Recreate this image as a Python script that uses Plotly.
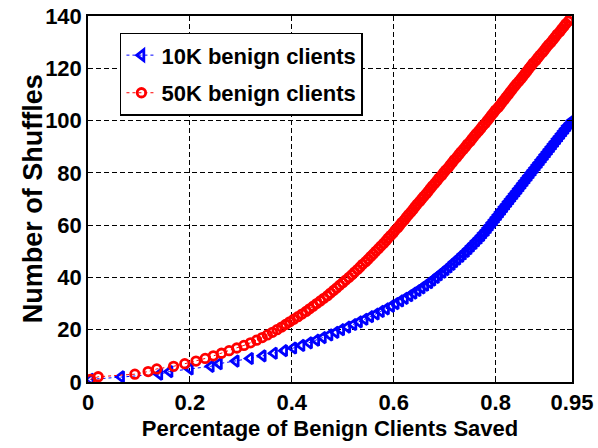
import plotly.graph_objects as go

# Fraction of benign clients saved after each shuffle, 50K benign clients
red_shuffles = [
    1, 2, 3, 4, 5, 6, 7, 8, 9, 10, 11, 12, 13, 14, 15, 16, 17, 18, 19, 20,
    21, 22, 23, 24, 25, 26, 27, 28, 29, 30, 31, 32, 33, 34, 35, 36, 37, 38, 39, 40,
    41, 42, 43, 44, 45, 46, 47, 48, 49, 50, 51, 52, 53, 54, 55, 56, 57, 58, 59, 60,
    61, 62, 63, 64, 65, 66, 67, 68, 69, 70, 71, 72, 73, 74, 75, 76, 77, 78, 79, 80,
    81, 82, 83, 84, 85, 86, 87, 88, 89, 90, 91, 92, 93, 94, 95, 96, 97, 98, 99, 100,
    101, 102, 103, 104, 105, 106, 107, 108, 109, 110, 111, 112, 113, 114, 115, 116, 117, 118, 119, 120,
    121, 122, 123, 124, 125, 126, 127, 128, 129, 130, 131, 132, 133, 134, 135, 136, 137, 138, 139,
]
red_saved = [
    0.005, 0.020, 0.092, 0.118, 0.135, 0.168, 0.190, 0.212, 0.230, 0.246,
    0.262, 0.277, 0.292, 0.306, 0.319, 0.331, 0.342, 0.352, 0.362, 0.371,
    0.380, 0.388, 0.396, 0.404, 0.412, 0.420, 0.428, 0.435, 0.442, 0.449,
    0.456, 0.463, 0.470, 0.476, 0.482, 0.488, 0.494, 0.500, 0.506, 0.512,
    0.518, 0.523, 0.529, 0.534, 0.539, 0.545, 0.550, 0.555, 0.560, 0.565,
    0.570, 0.575, 0.580, 0.585, 0.589, 0.594, 0.599, 0.603, 0.608, 0.612,
    0.616, 0.621, 0.625, 0.629, 0.634, 0.638, 0.642, 0.646, 0.651, 0.655,
    0.659, 0.664, 0.668, 0.672, 0.676, 0.681, 0.685, 0.689, 0.694, 0.698,
    0.702, 0.707, 0.711, 0.715, 0.719, 0.724, 0.728, 0.732, 0.737, 0.741,
    0.745, 0.750, 0.754, 0.758, 0.762, 0.767, 0.771, 0.775, 0.780, 0.784,
    0.788, 0.792, 0.796, 0.800, 0.805, 0.809, 0.813, 0.817, 0.821, 0.825,
    0.829, 0.833, 0.837, 0.841, 0.846, 0.850, 0.854, 0.858, 0.862, 0.866,
    0.870, 0.874, 0.879, 0.883, 0.887, 0.892, 0.896, 0.900, 0.904, 0.909,
    0.913, 0.917, 0.921, 0.926, 0.930, 0.934, 0.938, 0.943, 0.947,
]

# Fraction of benign clients saved after each shuffle, 10K benign clients
blue_shuffles = [
    1, 2, 3, 4, 5, 6, 7, 8, 9, 10, 11, 12, 13, 14, 15, 16, 17, 18, 19, 20,
    21, 22, 23, 24, 25, 26, 27, 28, 29, 30, 31, 32, 33, 34, 35, 36, 37, 38, 39, 40,
    41, 42, 43, 44, 45, 46, 47, 48, 49, 50, 51, 52, 53, 54, 55, 56, 57, 58, 59, 60,
    61, 62, 63, 64, 65, 66, 67, 68, 69, 70, 71, 72, 73, 74, 75, 76, 77, 78, 79, 80,
    81, 82, 83, 84, 85, 86, 87, 88, 89, 90, 91, 92, 93, 94, 95, 96, 97, 98, 99, 100,
]
blue_saved = [
    0.005, 0.065, 0.140, 0.160, 0.200, 0.241, 0.257, 0.290, 0.318, 0.343,
    0.365, 0.385, 0.403, 0.419, 0.434, 0.448, 0.461, 0.474, 0.486, 0.497,
    0.509, 0.521, 0.532, 0.543, 0.554, 0.565, 0.575, 0.585, 0.595, 0.604,
    0.613, 0.622, 0.631, 0.639, 0.647, 0.655, 0.662, 0.670, 0.676, 0.683,
    0.689, 0.696, 0.702, 0.708, 0.714, 0.719, 0.725, 0.731, 0.736, 0.742,
    0.747, 0.752, 0.757, 0.762, 0.767, 0.772, 0.776, 0.781, 0.785, 0.789,
    0.793, 0.797, 0.801, 0.805, 0.809, 0.813, 0.817, 0.821, 0.825, 0.829,
    0.833, 0.837, 0.841, 0.845, 0.849, 0.853, 0.857, 0.861, 0.865, 0.869,
    0.873, 0.877, 0.881, 0.885, 0.889, 0.893, 0.897, 0.901, 0.905, 0.909,
    0.913, 0.917, 0.921, 0.925, 0.929, 0.933, 0.937, 0.941, 0.946, 0.950,
]

x_tick_vals = [0, 0.2, 0.4, 0.6, 0.8, 0.95]
x_tick_text = ["0", "0.2", "0.4", "0.6", "0.8", "0.95"]
y_tick_vals = [0, 20, 40, 60, 80, 100, 120, 140]

FONT = "Liberation Sans"

fig = go.Figure()
fig.add_trace(go.Scatter(
    x=blue_saved, y=blue_shuffles, name="10K benign clients",
    legendgroup="a", mode="lines+markers",
    line=dict(color="#0000ff", width=1, dash="dot"),
    marker=dict(symbol="triangle-left-open", size=9.5, color="#0000ff",
                line=dict(width=2.8, color="#0000ff")),
))
fig.add_trace(go.Scatter(
    x=red_saved, y=red_shuffles, name="50K benign clients",
    legendgroup="b", mode="lines+markers",
    line=dict(color="#ff0000", width=1, dash="dot"),
    marker=dict(symbol="circle-open", size=8.5, color="#ff0000",
                line=dict(width=2.8, color="#ff0000")),
))

axis_common = dict(
    showline=True, linecolor="black", linewidth=1.5, mirror="allticks",
    ticks="inside", ticklen=5, tickwidth=1.2, tickcolor="black",
    showgrid=True, gridcolor="black", gridwidth=1.1, griddash="5px,3px",
    zeroline=False,
    tickfont=dict(family=FONT, size=22, color="black", weight="bold"),
)

fig.update_xaxes(
    range=[0, 0.95], tickvals=x_tick_vals, ticktext=x_tick_text,
    title=dict(text="Percentage of Benign Clients Saved", standoff=6,
               font=dict(family=FONT, size=22, color="black", weight="bold")),
    **axis_common,
)
fig.update_yaxes(range=[0, 140], tickvals=y_tick_vals, **axis_common)

# Y-axis title placed as a rotated annotation
fig.add_annotation(
    text="Number of Shuffles", textangle=-90,
    xref="paper", yref="paper", x=-0.113, y=0.5,
    xanchor="center", yanchor="middle", showarrow=False,
    font=dict(family=FONT, size=27, color="black", weight="bold"),
)

fig.update_layout(
    width=598, height=448,
    margin=dict(l=88, r=26, t=16, b=66, autoexpand=False),
    paper_bgcolor="white", plot_bgcolor="white",
    showlegend=True,
    legend=dict(
        x=0.066, y=0.954, xanchor="left", yanchor="top",
        bgcolor="white", bordercolor="black", borderwidth=1.5,
        font=dict(family=FONT, size=22, color="black", weight="bold"),
        traceorder="grouped", tracegroupgap=6, itemwidth=30,
    ),
)

fig.write_html("out.html")
